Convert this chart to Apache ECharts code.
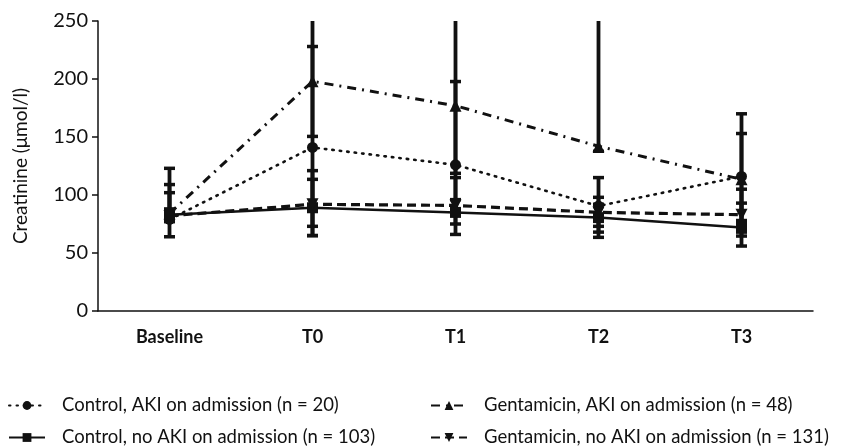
<!DOCTYPE html>
<html>
<head>
<meta charset="utf-8">
<script src="https://cdn.jsdelivr.net/npm/echarts@6/dist/echarts.min.js"></script>
<style>html,body{margin:0;padding:0;background:#fff}#c{width:868px;height:447px}</style>
</head>
<body>
<div id="c"></div>
<script>
const categories = ['Baseline', 'T0', 'T1', 'T2', 'T3'];
const yTicks = [0, 50, 100, 150, 200, 250];

const controlAKI = [79, 141, 126, 90.5, 116];
const controlAKILow = [77, 65, 66, 68, 64.6];
const controlAKIHigh = [102, 228, 197.8, 115, 170];

const gentAKI = [84, 198, 177, 142, 113.5];
const gentAKILow = [80, 150.5, 118.7, 137.7, 56];
const gentAKIHigh = [123, 270, 270, 270, 153];

const controlNoAKI = [83, 89, 85, 80.5, 72];
const controlNoAKILow = [64, 73, 75, 73, 68];
const controlNoAKIHigh = [109, 121, 96, 98, 93];

const gentNoAKI = [82, 92, 91, 85, 83];
const gentNoAKILow = [78, 65, 86, 63.5, 78];
const gentNoAKIHigh = [88, 113.5, 115, 92, 105];

const names = [
  'Control, AKI on admission (n = 20)',
  'Control, no AKI on admission (n = 103)',
  'Gentamicin, AKI on admission (n = 48)',
  'Gentamicin, no AKI on admission (n = 131)'
];

const ink = '#111';

function errData(lo, hi) {
  return lo.map((v, i) => [i, v, hi[i]]);
}
function errRender(params, api) {
  const i = api.value(0);
  const lo = api.coord([i, api.value(1)]);
  const hi = api.coord([i, api.value(2)]);
  const hw = 5.5;
  const st = { stroke: ink, lineWidth: 3.8 };
  return {
    type: 'group',
    children: [
      { type: 'line', shape: { x1: lo[0], y1: lo[1], x2: hi[0], y2: hi[1] }, style: st },
      { type: 'line', shape: { x1: lo[0] - hw, y1: lo[1], x2: lo[0] + hw, y2: lo[1] }, style: { stroke: ink, lineWidth: 3.5 } },
      { type: 'line', shape: { x1: hi[0] - hw, y1: hi[1], x2: hi[0] + hw, y2: hi[1] }, style: { stroke: ink, lineWidth: 3.5 } }
    ]
  };
}
function errSeries(lo, hi) {
  return {
    type: 'custom', renderItem: errRender, data: errData(lo, hi),
    encode: { x: 0, y: [1, 2] }, clip: true, silent: true, z: 3
  };
}

const font = 'Lato, "Noto Sans", sans-serif';
function legendItem(name, left, top) {
  return {
    data: [name], orient: 'horizontal', left: left, top: top,
    itemWidth: 36, itemHeight: 11, padding: 0,
    textStyle: { fontSize: 18.5, color: ink, fontFamily: font, padding: [0, 0, 0, 12] }
  };
}

const chart = echarts.init(document.getElementById('c'));
chart.setOption({
  animation: false,
  textStyle: { fontFamily: font, color: ink },
  grid: { left: 98, right: 55, top: 21, bottom: 136, containLabel: false },
  xAxis: {
    type: 'category', data: categories, boundaryGap: true,
    axisLine: { lineStyle: { color: ink, width: 1.5 } },
    axisTick: { alignWithLabel: true, length: 6, lineStyle: { color: ink, width: 1.5 } },
    axisLabel: { fontSize: 18, fontWeight: 'bold', color: ink, margin: 17, fontFamily: font }
  },
  yAxis: {
    type: 'value', min: yTicks[0], max: yTicks[yTicks.length - 1], interval: 50,
    name: 'Creatinine (\u03bcmol/l)', nameLocation: 'middle', nameGap: 68, nameRotate: 90,
    nameTextStyle: { fontSize: 19, color: ink, fontFamily: font },
    splitLine: { show: false },
    axisLine: { show: true, lineStyle: { color: ink, width: 1.5 } },
    axisTick: { show: true, length: 6, lineStyle: { color: ink, width: 1.5 } },
    axisLabel: { fontSize: 20, color: ink, margin: 10, fontFamily: font }
  },
  legend: [
    legendItem(names[0], 8, 396),
    legendItem(names[1], 8, 428),
    legendItem(names[2], 430, 396),
    legendItem(names[3], 430, 428)
  ],
  series: [
    {
      name: names[0], type: 'line', data: controlAKI, symbol: 'circle', symbolSize: 11,
      itemStyle: { color: ink },
      lineStyle: { color: ink, width: 2.6, type: [1.5, 6], cap: 'round' }, z: 4
    },
    {
      name: names[1], type: 'line', data: controlNoAKI, symbol: 'rect', symbolSize: 11,
      itemStyle: { color: ink },
      lineStyle: { color: ink, width: 2.5, type: 'solid' }, z: 4
    },
    {
      name: names[2], type: 'line', data: gentAKI, symbol: 'triangle', symbolSize: 12,
      itemStyle: { color: ink },
      lineStyle: { color: ink, width: 3, type: [9, 6, 2, 6] }, z: 4
    },
    {
      name: names[3], type: 'line', data: gentNoAKI, symbol: 'triangle', symbolRotate: 180, symbolSize: 12,
      itemStyle: { color: ink },
      lineStyle: { color: ink, width: 3.2, type: [9, 5] }, z: 4
    },
    errSeries(controlAKILow, controlAKIHigh),
    errSeries(controlNoAKILow, controlNoAKIHigh),
    errSeries(gentAKILow, gentAKIHigh),
    errSeries(gentNoAKILow, gentNoAKIHigh)
  ]
});
</script>
</body>
</html>
